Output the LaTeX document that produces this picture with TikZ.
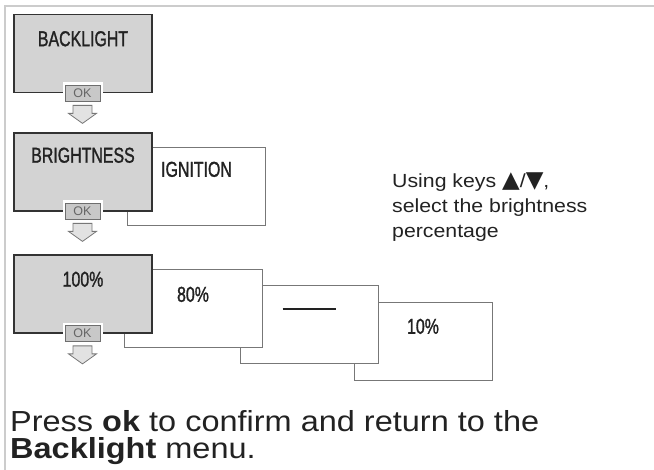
\documentclass[tikz,border=0pt]{standalone}
\usepackage{fontspec}
\setmainfont{Liberation Sans}
\newfontfamily\condfont{Liberation Sans}[FakeStretch=0.74, FakeBold=1.3]
\newfontfamily\widefont{Liberation Sans}[FakeStretch=1.12]
\newfontfamily\keyfont{DejaVu Sans}
\usetikzlibrary{positioning,calc}

\definecolor{menugray}{HTML}{D3D3D3}
\definecolor{boxline}{HTML}{333333}
\definecolor{optline}{HTML}{777777}
\definecolor{okfill}{HTML}{C8C8C8}
\definecolor{okline}{HTML}{6E6E6E}
\definecolor{oktext}{HTML}{666666}
\definecolor{arrowfill}{HTML}{E2E2E2}
\definecolor{frameline}{HTML}{CCCCCC}
\definecolor{textdark}{HTML}{222222}

\begin{document}
\begin{tikzpicture}[
    x=1pt, y=-1pt,
    graybox/.style  = {draw=boxline, fill=menugray, line width=1.1pt,
                       minimum width=138pt, minimum height=78pt, inner sep=0pt},
    whitebox/.style = {draw=optline, fill=white, line width=0.9pt,
                       minimum width=138pt, minimum height=78pt, inner sep=0pt},
    boxlabel/.style = {font=\condfont\fontsize{21.5}{25}\selectfont, text=textdark,
                       inner sep=0pt},
    okbtn/.style    = {draw=okline, fill=okfill, line width=0.8pt,
                       minimum width=35pt, minimum height=16pt, inner sep=0pt,
                       font=\fontsize{12.5}{13}\selectfont, text=oktext,
                       preaction={draw=white, line width=5pt}},
    notetext/.style = {font=\widefont\fontsize{19}{25}\selectfont, text=textdark,
                       align=left, inner sep=0pt},
    steptext/.style = {font=\widefont\fontsize{29}{27}\selectfont, text=textdark,
                       align=left, inner sep=0pt},
    downarrow/.pic  = {\draw[draw=optline, fill=arrowfill, line width=0.8pt]
                       (-9.5,0) -- (9.5,0) -- (9.5,8) -- (14,8) -- (0,18)
                       -- (-14,8) -- (-9.5,8) -- cycle;}
]
\useasboundingbox (0,0) rectangle (654,470);

% frame
\draw[frameline, line width=1.5pt] (5,470) -- (5,6) -- (654,6);

% =========================================================
% BACKLIGHT
% =========================================================
\node[graybox] (backlight) at (83,53.5) {};
\node[boxlabel, below=17pt of backlight.north] (backlightlbl) {BACKLIGHT};
\node[okbtn] (ok1) at (82.5,93) {OK};
\pic at ($(ok1.south)+(0,4)$) {downarrow};

% =========================================================
% BRIGHTNESS / IGNITION
% =========================================================
\node[whitebox] (ignition) at (196.5,186) {};
\node[boxlabel, below=15pt of ignition.north] (ignitionlbl) {IGNITION};

\node[graybox] (brightness) at (83,172) {};
\node[boxlabel, below=15pt of brightness.north] (brightnesslbl) {BRIGHTNESS};
\node[okbtn] (ok2) at (82.5,211) {OK};
\pic at ($(ok2.south)+(0,4)$) {downarrow};

\node[notetext, anchor=north west] (note) at (392,173)
  {Using keys {\keyfont\fontsize{23}{25}\selectfont▲}/{\keyfont\fontsize{23}{25}\selectfont▼},\\select the brightness\\percentage};

% =========================================================
% PERCENTAGES
% =========================================================
\node[whitebox] (pct10) at (423,341) {};
\node[boxlabel, below=17pt of pct10.north] (pct10lbl) {10\%};

\node[whitebox] (pctdash) at (309,324.5) {};
\node[inner sep=0pt, below=23pt of pctdash.north] (pctdashlbl)
  {\textcolor{textdark}{\rule{53pt}{1.7pt}}};

\node[whitebox] (pct80) at (193,308) {};
\node[boxlabel, below=18pt of pct80.north] (pct80lbl) {80\%};

\node[graybox] (pct100) at (83,294) {};
\node[boxlabel, below=17pt of pct100.north] (pct100lbl) {100\%};
\node[okbtn] (ok3) at (82.5,333.5) {OK};
\pic at ($(ok3.south)+(0,4)$) {downarrow};

% =========================================================
% CONFIRM TEXT
% =========================================================
\node[steptext, anchor=north west] (confirm) at (10,410)
  {Press \textbf{ok} to confirm and return to the\\\textbf{Backlight} menu.};

\end{tikzpicture}
\end{document}
